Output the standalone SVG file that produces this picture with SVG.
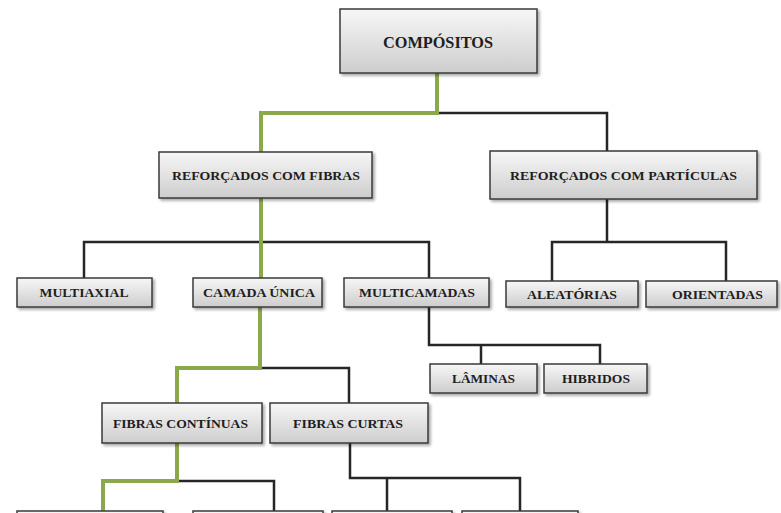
<svg xmlns="http://www.w3.org/2000/svg" width="781" height="513" viewBox="0 0 781 513">
<defs>
<linearGradient id="g" x1="0" y1="0" x2="0" y2="1">
<stop offset="0" stop-color="#f7f7f7"/>
<stop offset="1" stop-color="#cdcdcd"/>
</linearGradient>
<filter id="sh" x="-10%" y="-20%" width="125%" height="160%">
<feGaussianBlur in="SourceAlpha" stdDeviation="1.5"/>
<feOffset dx="2" dy="2" result="b"/>
<feComponentTransfer><feFuncA type="linear" slope="0.35"/></feComponentTransfer>
<feMerge><feMergeNode/><feMergeNode in="SourceGraphic"/></feMerge>
</filter>
</defs>
<style>
.box{fill:url(#g);stroke:#3a3a3a;stroke-width:1.5;filter:url(#sh)}
.t{font-family:"Liberation Serif","Times New Roman",serif;font-weight:bold;font-size:13.5px;fill:#1e1e1e;text-anchor:middle}
.big{font-size:16px}
.k{fill:none;stroke:#262626;stroke-width:2.5}
.gr{fill:none;stroke:#8ba84a;stroke-width:4}
</style>
<rect width="781" height="513" fill="#ffffff"/>
<g id="connectors">
<path class="k" d="M437 113 H607 V151"/>
<path class="k" d="M260 242 H84 V278 M260 242 H429 V278"/>
<path class="k" d="M607 199 V242 M552 281 V242 H726 V281"/>
<path class="k" d="M429 307 V345 H600 V364 M481 345 V364"/>
<path class="k" d="M260 368 H349 V403"/>
<path class="k" d="M350 443 V478 H520 V513 M387 478 V513"/>
<path class="k" d="M177 481 H274 V513"/>
<path class="gr" d="M437 73 V113 H261 V152"/>
<path class="gr" d="M261 198 V278"/>
<path class="gr" d="M260 307 V368 H177 V403"/>
<path class="gr" d="M177 443 V481 H103 V513"/>
</g>
<g id="compositos"><rect class="box" x="340" y="9" width="197" height="64"/><text class="t big" x="438" y="47.5" textLength="110" lengthAdjust="spacingAndGlyphs">COMPÓSITOS</text></g>
<g id="fibras"><rect class="box" x="159" y="152" width="213" height="46"/><text class="t" x="266" y="179.5" textLength="188" lengthAdjust="spacingAndGlyphs">REFORÇADOS COM FIBRAS</text></g>
<g id="particulas"><rect class="box" x="490" y="151" width="267" height="48"/><text class="t" x="623.5" y="179.5" textLength="227" lengthAdjust="spacingAndGlyphs">REFORÇADOS COM PARTÍCULAS</text></g>
<g id="multiaxial"><rect class="box" x="17" y="278" width="135" height="29"/><text class="t" x="84" y="297" textLength="89" lengthAdjust="spacingAndGlyphs">MULTIAXIAL</text></g>
<g id="camada"><rect class="box" x="193" y="278" width="129" height="29"/><text class="t" x="259" y="297" textLength="112" lengthAdjust="spacingAndGlyphs">CAMADA ÚNICA</text></g>
<g id="multicamadas"><rect class="box" x="344" y="278" width="145" height="29"/><text class="t" x="417" y="297" textLength="116" lengthAdjust="spacingAndGlyphs">MULTICAMADAS</text></g>
<g id="aleatorias"><rect class="box" x="506" y="281" width="132" height="26"/><text class="t" x="572" y="298.5" textLength="90" lengthAdjust="spacingAndGlyphs">ALEATÓRIAS</text></g>
<g id="orientadas"><rect class="box" x="646" y="281" width="131" height="26"/><text class="t" x="717.5" y="298.5" textLength="91" lengthAdjust="spacingAndGlyphs">ORIENTADAS</text></g>
<g id="laminas"><rect class="box" x="430" y="364" width="107" height="29"/><text class="t" x="483.5" y="383" textLength="63" lengthAdjust="spacingAndGlyphs">LÂMINAS</text></g>
<g id="hibridos"><rect class="box" x="544" y="364" width="103" height="29"/><text class="t" x="596" y="383" textLength="68" lengthAdjust="spacingAndGlyphs">HIBRIDOS</text></g>
<g id="continuas"><rect class="box" x="102" y="403" width="160" height="40"/><text class="t" x="180.5" y="427.5" textLength="135" lengthAdjust="spacingAndGlyphs">FIBRAS CONTÍNUAS</text></g>
<g id="curtas"><rect class="box" x="270" y="403" width="158" height="40"/><text class="t" x="348" y="427.5" textLength="110" lengthAdjust="spacingAndGlyphs">FIBRAS CURTAS</text></g>
<g id="b1"><rect class="box" x="17" y="511" width="146" height="20"/></g>
<g id="b2"><rect class="box" x="193" y="511" width="130" height="20"/></g>
<g id="b3"><rect class="box" x="332" y="511" width="120" height="20"/></g>
<g id="b4"><rect class="box" x="462" y="511" width="116" height="20"/></g>
</svg>
